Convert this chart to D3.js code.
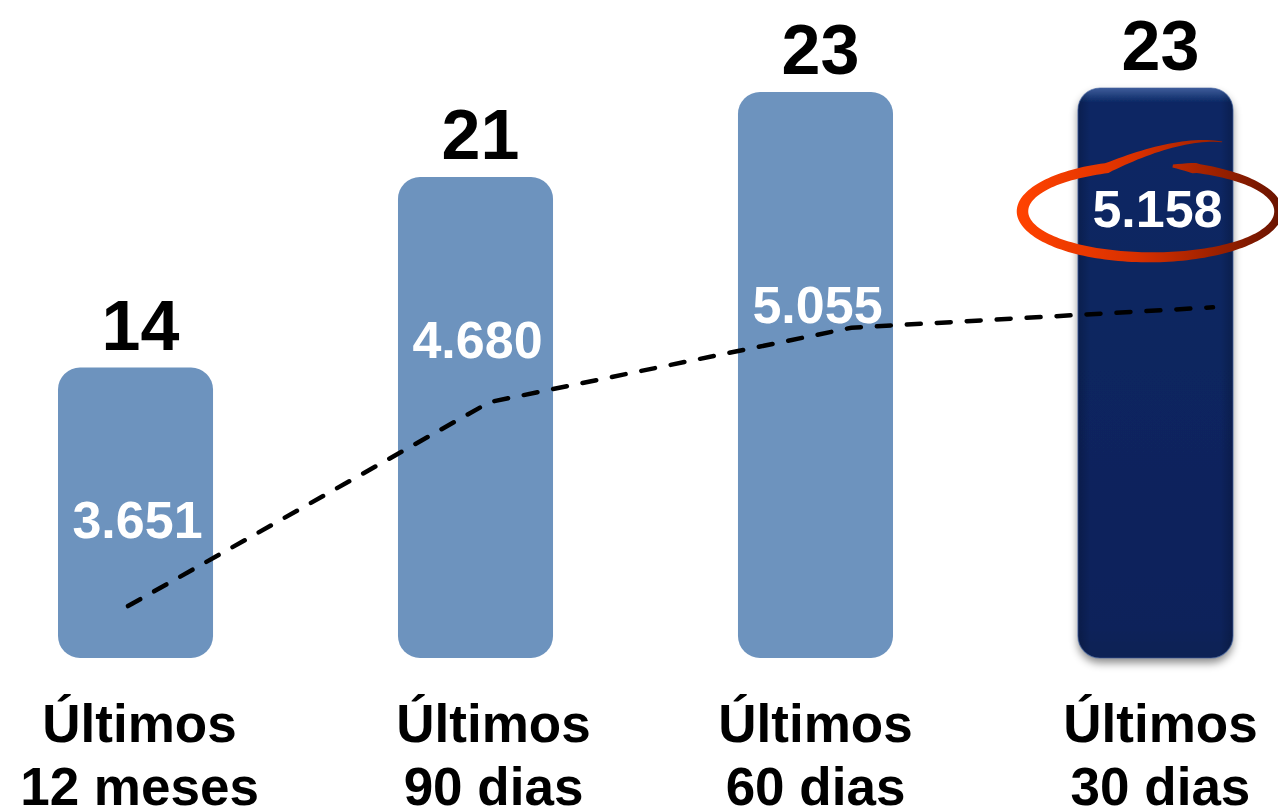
<!DOCTYPE html>
<html>
<head>
<meta charset="utf-8">
<script src="https://cdn.jsdelivr.net/npm/d3@7"></script>
<style>
  html, body { margin: 0; padding: 0; background: #fff; }
  svg { display: block; font-family: "Liberation Sans", Arial, sans-serif; font-weight: bold; }
</style>
</head>
<body>
<svg id="chart" width="1278" height="809"></svg>
<script>
// dados
const categories = ['Últimos 12 meses', 'Últimos 90 dias', 'Últimos 60 dias', 'Últimos 30 dias'];
const labelLines = [['Últimos', '12 meses'], ['Últimos', '90 dias'], ['Últimos', '60 dias'], ['Últimos', '30 dias']];
const barValues = [14, 21, 23, 23];
const lineValues = [3651, 4680, 5055, 5158];

// ajustes manuais de layout
const valueLabelLift = [68, 44, 5, 80];   // px acima da linha
const catLabelNudge = [4, 18, 0, 5];      // px para a direita

const width = 1278, height = 809;
const svg = d3.select('#chart');
const defs = svg.append('defs');

// escalas
const x = d3.scaleBand().domain(categories).range([58, 1233]).paddingInner(0.544);
const yBar = d3.scalePow().exponent(3).domain([-19.3, 23]).range([658, 92]);
const xLine = d3.scalePoint().domain(categories).range([128, 1213]);
const yLine = d3.scaleLinear().domain([3500, 5200]).range([636, 299]);

const fmt = v => d3.format(',')(v).replace(/,/g, '.');

// gradientes / filtros
const navy = defs.append('linearGradient').attr('id', 'navy').attr('x1', 0).attr('y1', 0).attr('x2', 0).attr('y2', 1);
navy.append('stop').attr('offset', '0%').attr('stop-color', '#3d5c9a');
navy.append('stop').attr('offset', '2.5%').attr('stop-color', '#0b2864');
navy.append('stop').attr('offset', '95%').attr('stop-color', '#07225a');
navy.append('stop').attr('offset', '100%').attr('stop-color', '#0a2254');

const side = defs.append('linearGradient').attr('id', 'side').attr('x1', 0).attr('y1', 0).attr('x2', 1).attr('y2', 0);
side.append('stop').attr('offset', '0%').attr('stop-color', '#000').attr('stop-opacity', 0.2);
side.append('stop').attr('offset', '8%').attr('stop-color', '#000').attr('stop-opacity', 0);
side.append('stop').attr('offset', '92%').attr('stop-color', '#000').attr('stop-opacity', 0);
side.append('stop').attr('offset', '100%').attr('stop-color', '#000').attr('stop-opacity', 0.2);

const shadow = defs.append('filter').attr('id', 'shadow').attr('x', '-20%').attr('y', '-10%').attr('width', '140%').attr('height', '125%');
shadow.append('feDropShadow').attr('dx', 0).attr('dy', 5).attr('stdDeviation', 4)
  .attr('flood-color', '#000').attr('flood-opacity', 0.45);

const red = defs.append('linearGradient').attr('id', 'red')
  .attr('gradientUnits', 'userSpaceOnUse').attr('x1', 1020).attr('y1', 0).attr('x2', 1280).attr('y2', 0);
red.append('stop').attr('offset', '0%').attr('stop-color', '#ff4200');
red.append('stop').attr('offset', '45%').attr('stop-color', '#d83000');
red.append('stop').attr('offset', '100%').attr('stop-color', '#6a1400');

// barras
const last = categories.length - 1;
svg.append('g').selectAll('rect')
  .data(categories)
  .join('rect')
  .attr('x', d => x(d))
  .attr('y', (d, i) => yBar(barValues[i]) - (i === last ? 4 : 0))
  .attr('width', x.bandwidth())
  .attr('height', (d, i) => yBar.range()[0] - yBar(barValues[i]) + (i === last ? 4 : 0))
  .attr('rx', 22)
  .attr('fill', (d, i) => i === last ? 'url(#navy)' : '#6d93be')
  .attr('filter', (d, i) => i === last ? 'url(#shadow)' : null);

// brilho lateral na barra destacada
svg.append('rect')
  .attr('x', x(categories[last]))
  .attr('y', yBar(barValues[last]) - 4)
  .attr('width', x.bandwidth())
  .attr('height', yBar.range()[0] - yBar(barValues[last]) + 4)
  .attr('rx', 22)
  .attr('fill', 'url(#side)')
  .attr('stroke', '#3f5f9c')
  .attr('stroke-opacity', 0.6)
  .attr('stroke-width', 1.2);

// números acima das barras
svg.append('g').selectAll('text')
  .data(categories)
  .join('text')
  .attr('x', d => x(d) + x.bandwidth() / 2 + 5)
  .attr('y', (d, i) => yBar(barValues[i]) - (i === last ? 22 : 18))
  .attr('text-anchor', 'middle')
  .attr('font-size', 70)
  .attr('fill', '#000')
  .text((d, i) => barValues[i]);

// linha tracejada
const line = d3.line()
  .x((d, i) => xLine(categories[i]))
  .y(d => yLine(d));

svg.append('path')
  .datum(lineValues)
  .attr('d', line)
  .attr('fill', 'none')
  .attr('stroke', '#000')
  .attr('stroke-width', 4.5)
  .attr('stroke-linecap', 'round')
  .attr('stroke-dasharray', '14 16');

// rótulos brancos
svg.append('g').selectAll('text')
  .data(categories)
  .join('text')
  .attr('x', d => x(d) + x.bandwidth() / 2 + 2)
  .attr('y', (d, i) => yLine(lineValues[i]) - valueLabelLift[i])
  .attr('text-anchor', 'middle')
  .attr('font-size', 52)
  .attr('fill', '#fff')
  .text((d, i) => fmt(lineValues[i]));

// círculo vermelho em volta do último valor
const cx = x(categories[last]) + x.bandwidth() / 2 - 5;
const cy = yLine(lineValues[last]) - valueLabelLift[last] - 16;
const rx = 128;
const strokeW = a => {
  if (a < -68) return 3 + (a + 80) * 0.8;                  // início grosso
  if (a > 250) return Math.max(0.5, 10 - (a - 250) * 0.17); // cauda afinando
  return 10 - 1.5 * Math.cos(a * Math.PI / 180);
};
const ryAt = a => 46 + Math.max(0, a - 250) * 0.7;
const angles = d3.range(-80, 306, 2);
const outer = angles.map(a => {
  const t = a * Math.PI / 180, w = strokeW(a) / 2;
  return [cx + (rx + w) * Math.cos(t), cy + (ryAt(a) + w) * Math.sin(t)];
});
const inner = angles.map(a => {
  const t = a * Math.PI / 180, w = strokeW(a) / 2;
  return [cx + (rx - w) * Math.cos(t), cy + (ryAt(a) - w) * Math.sin(t)];
}).reverse();
svg.append('path')
  .attr('d', d3.line().curve(d3.curveLinearClosed)(outer.concat(inner)))
  .attr('fill', 'url(#red)');

// rótulos das categorias
const lab = svg.append('g').selectAll('text')
  .data(categories)
  .join('text')
  .attr('text-anchor', 'middle')
  .attr('font-size', 53)
  .attr('fill', '#000');
lab.selectAll('tspan')
  .data((d, i) => labelLines[i].map(s => ({ s, c: d, i })))
  .join('tspan')
  .attr('x', d => x(d.c) + x.bandwidth() / 2 + catLabelNudge[d.i])
  .attr('y', (d, j) => 742 + j * 63)
  .text(d => d.s);
</script>
</body>
</html>
